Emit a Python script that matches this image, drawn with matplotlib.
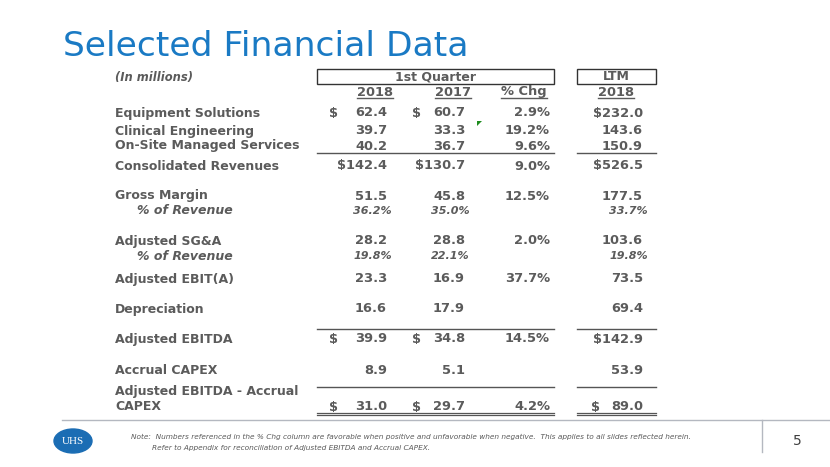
import matplotlib.pyplot as plt
import matplotlib.patches as patches

# ---- data ----
row_labels = ["Equipment Solutions", "Clinical Engineering", "On-Site Managed Services",
              "Consolidated Revenues", "Gross Margin", "% of Revenue", "Adjusted SG&A",
              "% of Revenue", "Adjusted EBIT(A)", "Depreciation", "Adjusted EBITDA",
              "Accrual CAPEX", "Adjusted EBITDA - Accrual\nCAPEX"]
q1_2018 = [62.4, 39.7, 40.2, 142.4, 51.5, 36.2, 28.2, 19.8, 23.3, 16.6, 39.9, 8.9, 31.0]
q1_2017 = [60.7, 33.3, 36.7, 130.7, 45.8, 35.0, 28.8, 22.1, 16.9, 17.9, 34.8, 5.1, 29.7]
pct_chg = [2.9, 19.2, 9.6, 9.0, 12.5, None, 2.0, None, 37.7, None, 14.5, None, 4.2]
ltm_2018 = [232.0, 143.6, 150.9, 526.5, 177.5, 33.7, 103.6, 19.8, 73.5, 69.4, 142.9, 53.9, 89.0]
dollar_rows = [True, False, False, True, False, False, False, False, False, False, True, False, True]
pct_rows = [False, False, False, False, False, True, False, True, False, False, False, False, False]
col_headers = ["2018", "2017", "% Chg", "2018"]

# ---- layout (pixels) ----
row_y = [113, 131, 146, 166, 196, 211, 241, 256, 279, 309, 339, 371, 407]
col_right = [387, 465, 550, 643]
col_center = [375, 453, 524, 616]
dollar_x = [329, 412, None, 591]
lines_after = {2: 153, 9: 329, 11: 387}

GRAY = "#5b5b5b"
BLUE = "#1a7ac4"
FS_LBL = 9.0
FS_NUM = 9.4

fig = plt.figure(figsize=(8.3, 4.67), dpi=100)
ax = fig.add_axes([0, 0, 1, 1])
ax.set_xlim(0, 830)
ax.set_ylim(467, 0)
ax.axis("off")

ax.text(63, 47, "Selected Financial Data", fontsize=24.8, color=BLUE,
        va="center", ha="left", family="DejaVu Sans")

ax.text(115, 77, "(In millions)", fontsize=8.3, color=GRAY, style="italic",
        weight="bold", va="center")

# header boxes
ax.add_patch(patches.Rectangle((317, 69), 237, 15, fill=False, ec="#333333", lw=1))
ax.add_patch(patches.Rectangle((577, 69), 79, 15, fill=False, ec="#333333", lw=1))
ax.text(435, 76.5, "1st Quarter", fontsize=FS_LBL, color=GRAY, weight="bold",
        ha="center", va="center")
ax.text(616, 76.5, "LTM", fontsize=FS_LBL, color=GRAY, weight="bold",
        ha="center", va="center")

fig.canvas.draw()
renderer = fig.canvas.get_renderer()
inv = ax.transData.inverted()
for i, h in enumerate(col_headers):
    t = ax.text(col_center[i], 92, h, fontsize=FS_NUM, color=GRAY,
                weight="bold", ha="center", va="center")
    bb = t.get_window_extent(renderer)
    (x0, _), (x1, _) = inv.transform([(bb.x0, 0), (bb.x1, 0)])
    ax.plot([x0, x1], [98, 98], color=GRAY, lw=1)


def fmt(v, dollar, pct_row):
    if v is None:
        return "", False
    if pct_row:
        return f"{v:.1f}%", False
    s = f"{v:.1f}"
    if dollar and v >= 100:
        return "$" + s, False
    return s, dollar


cols = [q1_2018, q1_2017, None, ltm_2018]
for r, label in enumerate(row_labels):
    y = row_y[r]
    if pct_rows[r]:
        ax.text(137, y, label, fontsize=FS_LBL, color=GRAY, weight="bold",
                style="italic", va="center")
    elif "\n" in label:
        l1, l2 = label.split("\n")
        ax.text(115, y - 15, l1, fontsize=FS_LBL, color=GRAY, weight="bold", va="center")
        ax.text(115, y, l2, fontsize=FS_LBL, color=GRAY, weight="bold", va="center")
    else:
        ax.text(115, y, label, fontsize=FS_LBL, color=GRAY, weight="bold", va="center")

    for c in range(4):
        if c == 2:
            v = pct_chg[r]
            if v is not None:
                ax.text(col_right[c], y, f"{v:.1f}%", fontsize=FS_NUM, color=GRAY,
                        weight="bold", ha="right", va="center")
            continue
        s, sep = fmt(cols[c][r], dollar_rows[r], pct_rows[r])
        if pct_rows[r]:
            ax.text(col_right[c] + 5, y, s, fontsize=8.0, color=GRAY, weight="bold",
                    style="italic", ha="right", va="center")
        else:
            ax.text(col_right[c], y, s, fontsize=FS_NUM, color=GRAY, weight="bold",
                    ha="right", va="center")
            if sep:
                ax.text(dollar_x[c], y, "$", fontsize=FS_NUM, color=GRAY, weight="bold",
                        ha="left", va="center")

# rules
for r, ly in lines_after.items():
    ax.plot([317, 554], [ly, ly], color="#555555", lw=1)
    ax.plot([577, 656], [ly, ly], color="#555555", lw=1)
for ly in (412.5, 415):
    ax.plot([317, 554], [ly, ly], color="#555555", lw=0.9)
    ax.plot([577, 656], [ly, ly], color="#555555", lw=0.9)

# small green comment marker
ax.add_patch(patches.Polygon([(477, 121), (482, 121), (477, 126)], closed=True,
                             color="#1e8c1e", lw=0))

# footer
ax.plot([62, 830], [419.5, 419.5], color="#b4b8c0", lw=1)
ax.plot([762, 762], [420, 452], color="#b4b8c0", lw=1)
ax.text(797, 441, "5", fontsize=10, color="#404040", ha="center", va="center")

ax.add_patch(patches.Ellipse((73, 441), 38, 24, color="#1b6db4"))
ax.text(73, 441.5, "UHS", fontsize=8, color="white", ha="center", va="center",
        family="Liberation Serif")

note1 = ("Note:  Numbers referenced in the % Chg column are favorable when positive and "
         "unfavorable when negative.  This applies to all slides reflected herein.")
note2 = "Refer to Appendix for reconciliation of Adjusted EBITDA and Accrual CAPEX."
ax.text(131, 437, note1, fontsize=5.3, color="#595959", style="italic",
        va="center", family=["Liberation Sans Narrow", "DejaVu Sans"])
ax.text(152, 448, note2, fontsize=5.3, color="#595959", style="italic",
        va="center", family=["Liberation Sans Narrow", "DejaVu Sans"])

fig.savefig("out.png", dpi=100)
